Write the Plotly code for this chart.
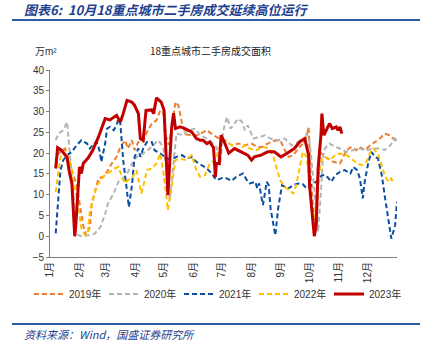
import plotly.graph_objects as go

months = ["1月", "2月", "3月", "4月", "5月", "6月", "7月", "8月", "9月", "10月", "11月", "12月"]
month_start = [0, 31, 59, 90, 120, 151, 181, 212, 243, 273, 304, 334]

d19 = [8,12,16,19,23,28,31,35,38,42,44,47,51,56,60,65,70,74,79,82,86,89,93,98,102,107,112,116,119,122,125,128,132,135,139,143,148,155,160,165,172,178,184,191,198,205,212,218,223,229,237,243,247,251,256,261,266,270,272,274,277,280,284,289,294,298,305,312,317,322,326,331,337,342,347,352,357,361,365]
v19 = [19.5,20.7,21.1,19.1,15.9,12.3,8.3,2.6,0.2,2.2,7.9,10.3,13.9,14.3,15.5,17.5,19.1,21.5,23.1,21.1,23.1,20.7,22.7,22.7,25.1,27.1,27.9,30.3,30.0,24.0,22.0,26.0,32.3,31.5,27.0,24.5,24.3,24.3,25.0,25.5,24.3,23.5,23.1,21.9,22.3,21.9,22.3,21.5,21.5,22.3,23.1,22.7,20.7,19.1,19.5,21.1,22.3,24.0,26.3,15.9,6.0,2.0,20.3,19.1,18.5,17.9,17.5,20.7,21.5,20.7,21.5,20.7,21.9,22.7,23.5,24.7,24.3,23.5,22.7]

d20 = [6,9,14,18,20,23,25,27,33,40,47,53,58,61,67,72,77,82,88,93,98,103,109,114,119,123,126,130,133,140,145,153,158,165,170,175,179,182,186,190,195,198,202,205,208,214,221,226,232,240,247,254,261,266,270,273,277,280,282,285,287,289,294,300,305,312,319,326,333,340,347,352,358,363,365]
v20 = [23.1,24.7,25.5,27.5,22.3,15.1,8.7,0.6,0.0,0.2,0.6,2.2,5.4,7.9,10.3,13.1,13.9,15.5,18.3,19.5,19.9,20.7,21.9,23.1,21.5,15.9,8.7,18.3,24.7,24.3,25.5,25.9,24.3,23.5,22.7,21.5,17.0,25.1,28.7,25.9,27.5,28.3,27.5,25.5,26.7,23.5,23.9,24.3,23.5,23.1,23.5,21.9,22.7,22.3,24.7,22.7,13.9,5.8,1.0,10.6,18.7,21.1,22.3,21.5,21.1,20.3,20.7,21.1,20.7,21.1,21.1,20.7,21.9,23.5,23.0]

d21 = [6,9,11,14,18,23,28,33,39,42,46,49,52,54,58,60,63,67,70,72,74,77,80,83,86,89,93,95,98,102,107,110,116,121,126,133,139,144,149,154,160,165,170,175,181,186,191,196,203,207,210,216,218,220,222,224,228,230,232,235,237,240,244,247,251,256,261,266,270,275,280,286,290,293,296,300,305,310,316,319,323,326,329,331,335,338,342,345,349,352,356,359,363,365]
v21 = [0.7,8.7,15.9,18.3,19.5,20.3,21.9,23.1,22.3,21.1,22.3,22.7,20.7,17.9,22.3,25.9,26.3,25.5,26.7,28.3,27.1,18.3,11.9,7.0,11.9,19.1,21.1,19.1,21.1,22.7,22.7,20.7,19.9,19.1,18.3,19.1,19.5,18.7,19.1,17.9,17.1,16.3,15.1,13.5,14.0,13.9,13.3,14.3,15.1,13.5,12.7,13.1,11.5,12.7,9.9,7.5,13.1,12.3,6.7,2.6,0.2,6.7,12.3,11.9,11.5,12.3,12.7,12.5,11.5,12.3,13.1,14.7,14.7,13.9,13.1,14.7,15.5,15.9,15.1,16.7,15.9,13.9,9.1,13.1,17.9,20.3,19.1,18.7,14.7,9.9,4.3,-0.6,2.6,8.3]

d22 = [6,9,11,14,18,21,23,26,30,33,37,40,42,46,49,53,58,63,68,72,75,79,82,87,91,94,96,98,102,107,112,116,119,122,124,128,132,137,143,149,154,158,163,168,174,179,184,189,195,198,205,210,217,224,231,235,238,242,247,252,256,259,263,266,270,273,275,277,279,282,286,289,294,300,305,312,317,323,328,333,337,340,345,349,352,356,359,361]
v22 = [10.6,15.1,19.1,20.7,19.5,17.9,15.9,11.5,7.0,1.8,0.2,1.4,6.3,9.5,11.9,13.5,14.7,15.5,16.3,16.7,14.7,12.7,13.5,14.3,15.9,12.7,10.3,11.9,15.9,16.3,17.5,19.9,15.9,10.3,6.3,11.9,18.3,18.7,18.3,19.5,15.9,14.3,14.7,17.5,18.3,21.9,23.1,22.3,21.1,20.7,21.9,21.1,20.7,21.5,21.1,19.1,16.7,13.5,11.9,11.1,10.3,12.3,17.1,20.3,19.1,13.1,7.5,2.6,5.8,13.9,18.7,19.1,18.3,19.5,19.9,19.5,18.7,17.5,17.1,17.9,20.3,21.1,19.9,17.1,14.7,13.1,13.9,12.8]

d23 = [6,8,12,18,20,23,26,27,31,33,35,40,45,51,58,63,70,74,77,81,86,89,93,95,98,101,107,109,112,117,120,122,124,128,130,132,137,142,149,154,158,161,165,168,172,174,175,178,180,184,188,194,201,208,212,215,222,229,236,243,249,257,263,268,270,272,273,276,278,280,282,285,286,288,291,294,297,301,303,305,307]
v23 = [16.3,21.3,20.7,19.0,15.9,12.7,0.0,2.2,16.7,15.1,17.5,18.8,20.7,23.9,28.3,28.0,29.1,27.5,29.5,32.7,32.3,31.5,29.5,23.5,23.1,30.3,30.4,29.5,33.3,32.3,30.3,19.9,9.9,26.3,29.6,25.9,26.3,25.9,25.1,23.5,23.1,23.1,22.3,22.7,21.3,14.3,17.5,17.5,24.3,22.3,20.0,21.1,20.3,19.5,18.3,19.1,19.5,20.3,20.3,19.1,19.9,21.1,22.8,23.5,21.5,19.5,12.3,4.3,0.0,2.6,16.3,24.3,29.5,24.3,25.9,27.1,25.9,26.3,25.5,26.3,24.7]

series = [
    ("2019年", d19, v19, "#ED7D31", 2, "5px,3px"),
    ("2020年", d20, v20, "#B4B4B4", 2, "5px,3px"),
    ("2021年", d21, v21, "#0B4EA2", 2, "5px,3px"),
    ("2022年", d22, v22, "#FFC000", 2, "5px,3px"),
    ("2023年", d23, v23, "#C00000", 3, "solid"),
]

L, T, W, H = 50, 70, 347, 187
def px(x):
    return (x - L) / W
def py(y):
    return (T + H - y) / H

fig = go.Figure()
legend_layout = {}
for i, (name, d, v, c, w, dash) in enumerate(series):
    lname = "legend" if i == 0 else f"legend{i+1}"
    fig.add_trace(go.Scatter(x=d, y=v, mode="lines", name=name, legend=lname,
                             line=dict(color=c, width=w, dash=dash)))
    legend_layout[lname] = dict(x=px(29 + 75 * i), y=py(294), xanchor="left", yanchor="middle",
                                orientation="h", font=dict(size=10, color="#333333"),
                                bgcolor="rgba(0,0,0,0)", itemwidth=30)

fig.update_layout(
    width=427, height=347,
    margin=dict(l=L, r=427 - L - W, t=T, b=347 - T - H),
    paper_bgcolor="white", plot_bgcolor="white",
    font=dict(family="Liberation Sans, Noto Sans CJK SC", size=10, color="#333333"),
    showlegend=True,
    xaxis=dict(range=[0, 365], tickvals=month_start, ticktext=months, tickangle=-90,
               showgrid=False, zeroline=False, showline=True, linecolor="#7F7F7F", linewidth=1,
               ticks="", tickfont=dict(size=10)),
    yaxis=dict(range=[-5, 40], dtick=5, showgrid=False, zeroline=False, showline=True,
               linecolor="#7F7F7F", linewidth=1, ticks="outside", ticklen=3, tickcolor="#7F7F7F",
               tickfont=dict(size=10)),
    **legend_layout,
)

fig.add_annotation(text="<b><i>图表6:  10月18重点城市二手房成交延续高位运行</i></b>", xref="paper", yref="paper",
                   x=px(22), y=py(9), xanchor="left", yanchor="middle", showarrow=False,
                   font=dict(size=13, color="#1F3F8F", family="Noto Sans CJK SC"))
fig.add_annotation(text="18重点城市二手房成交面积", xref="paper", yref="paper",
                   x=px(210), y=py(50), xanchor="center", yanchor="middle", showarrow=False,
                   font=dict(size=10, color="#222222", family="Noto Sans CJK SC"))
fig.add_annotation(text="万m²", xref="paper", yref="paper",
                   x=px(33), y=py(51), xanchor="left", yanchor="middle", showarrow=False,
                   font=dict(size=10, color="#333333"))
fig.add_annotation(text="<i>资料来源：Wind，国盛证券研究所</i>", xref="paper", yref="paper",
                   x=px(22), y=py(334), xanchor="left", yanchor="middle", showarrow=False,
                   font=dict(size=11, color="#1F3F8F", family="Noto Sans CJK SC"))

for yy in (20, 324):
    fig.add_shape(type="line", xref="paper", yref="paper", x0=px(12), x1=px(420),
                  y0=py(yy), y1=py(yy), line=dict(color="#2E5DA8", width=2))

fig.write_html("out.html")
